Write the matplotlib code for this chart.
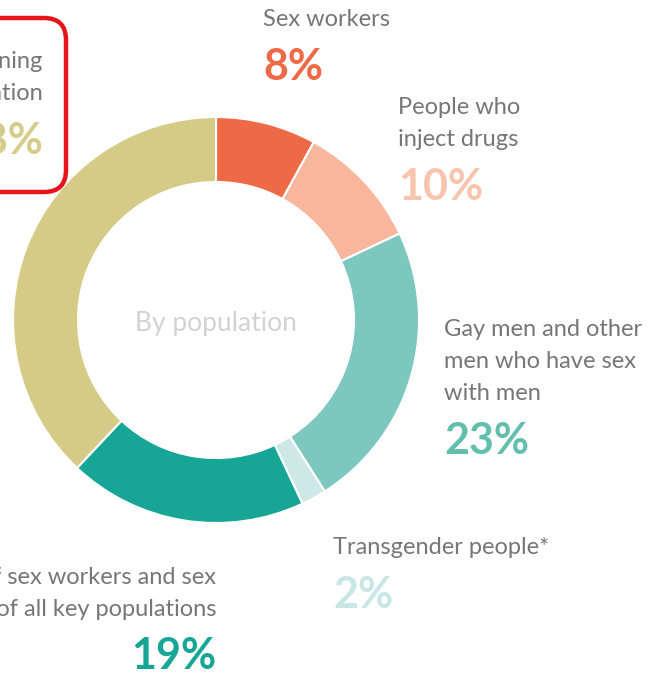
import matplotlib.pyplot as plt
from matplotlib.patches import FancyBboxPatch

# --- Data ---
GROUPS = [
    'Sex workers',
    'People who\ninject drugs',
    'Gay men and other\nmen who have sex\nwith men',
    'Transgender people*',
    'Clients of sex workers and sex\npartners of all key populations',
    'Remaining\npopulation',
]
SHARES = [8, 10, 23, 2, 19, 38]
COLORS = ['#EE6A47', '#F8B69D', '#7CC7BE', '#CDE8E6', '#17A596', '#D5CB87']
PCT_COLORS = ['#EE6A47', '#F8C4AE', '#62BFAE', '#C9E6E6', '#17A596', '#D5CC8C']

# label anchors in image pixels: (x, y of first line, alignment)
LABEL_POS = [
    (263, 20, 'left'),
    (398, 108, 'left'),
    (444, 330, 'left'),
    (333, 548, 'left'),
    (216, 577, 'right'),
    (43, 62, 'right'),
]

W, H = 655, 674
LINE = 32
TEXT_GREY = '#767676'
FONT = 'Lato'


def main():
    fig = plt.figure(figsize=(W / 100, H / 100), dpi=100)
    ax = fig.add_axes([0, 0, 1, 1])

    cx, cy, r = 216, H - 320, 203
    ax.pie(SHARES, colors=COLORS, startangle=90, counterclock=False,
           center=(cx, cy), radius=r,
           wedgeprops=dict(width=r * 0.32, edgecolor='white', linewidth=1.5))
    ax.set_xlim(0, W)
    ax.set_ylim(0, H)
    ax.set_aspect('equal')
    ax.axis('off')

    ax.text(cx, H - 323, 'By population', ha='center', va='center',
            fontsize=19, color='#D2D2D2', family=FONT)

    for label, share, pcol, (x, y, ha) in zip(GROUPS, SHARES, PCT_COLORS, LABEL_POS):
        n = label.count('\n') + 1
        for i, line in enumerate(label.split('\n')):
            ax.text(x, H - (y + i * LINE), line, ha=ha, va='center',
                    fontsize=17, color=TEXT_GREY, family=FONT)
        py = y + (n - 1) * LINE + 47
        ax.text(x, H - py, f'{share}%', ha=ha, va='center',
                fontsize=31, color=pcol, family=FONT, fontweight='bold')

    # highlight box around the remaining-population label
    box = FancyBboxPatch((-60, H - 192), 126, 174,
                         boxstyle='round,pad=0,rounding_size=22',
                         fill=False, edgecolor='#E8141B', linewidth=3.2)
    ax.add_patch(box)

    fig.savefig('out.png', dpi=100)


if __name__ == '__main__':
    main()
